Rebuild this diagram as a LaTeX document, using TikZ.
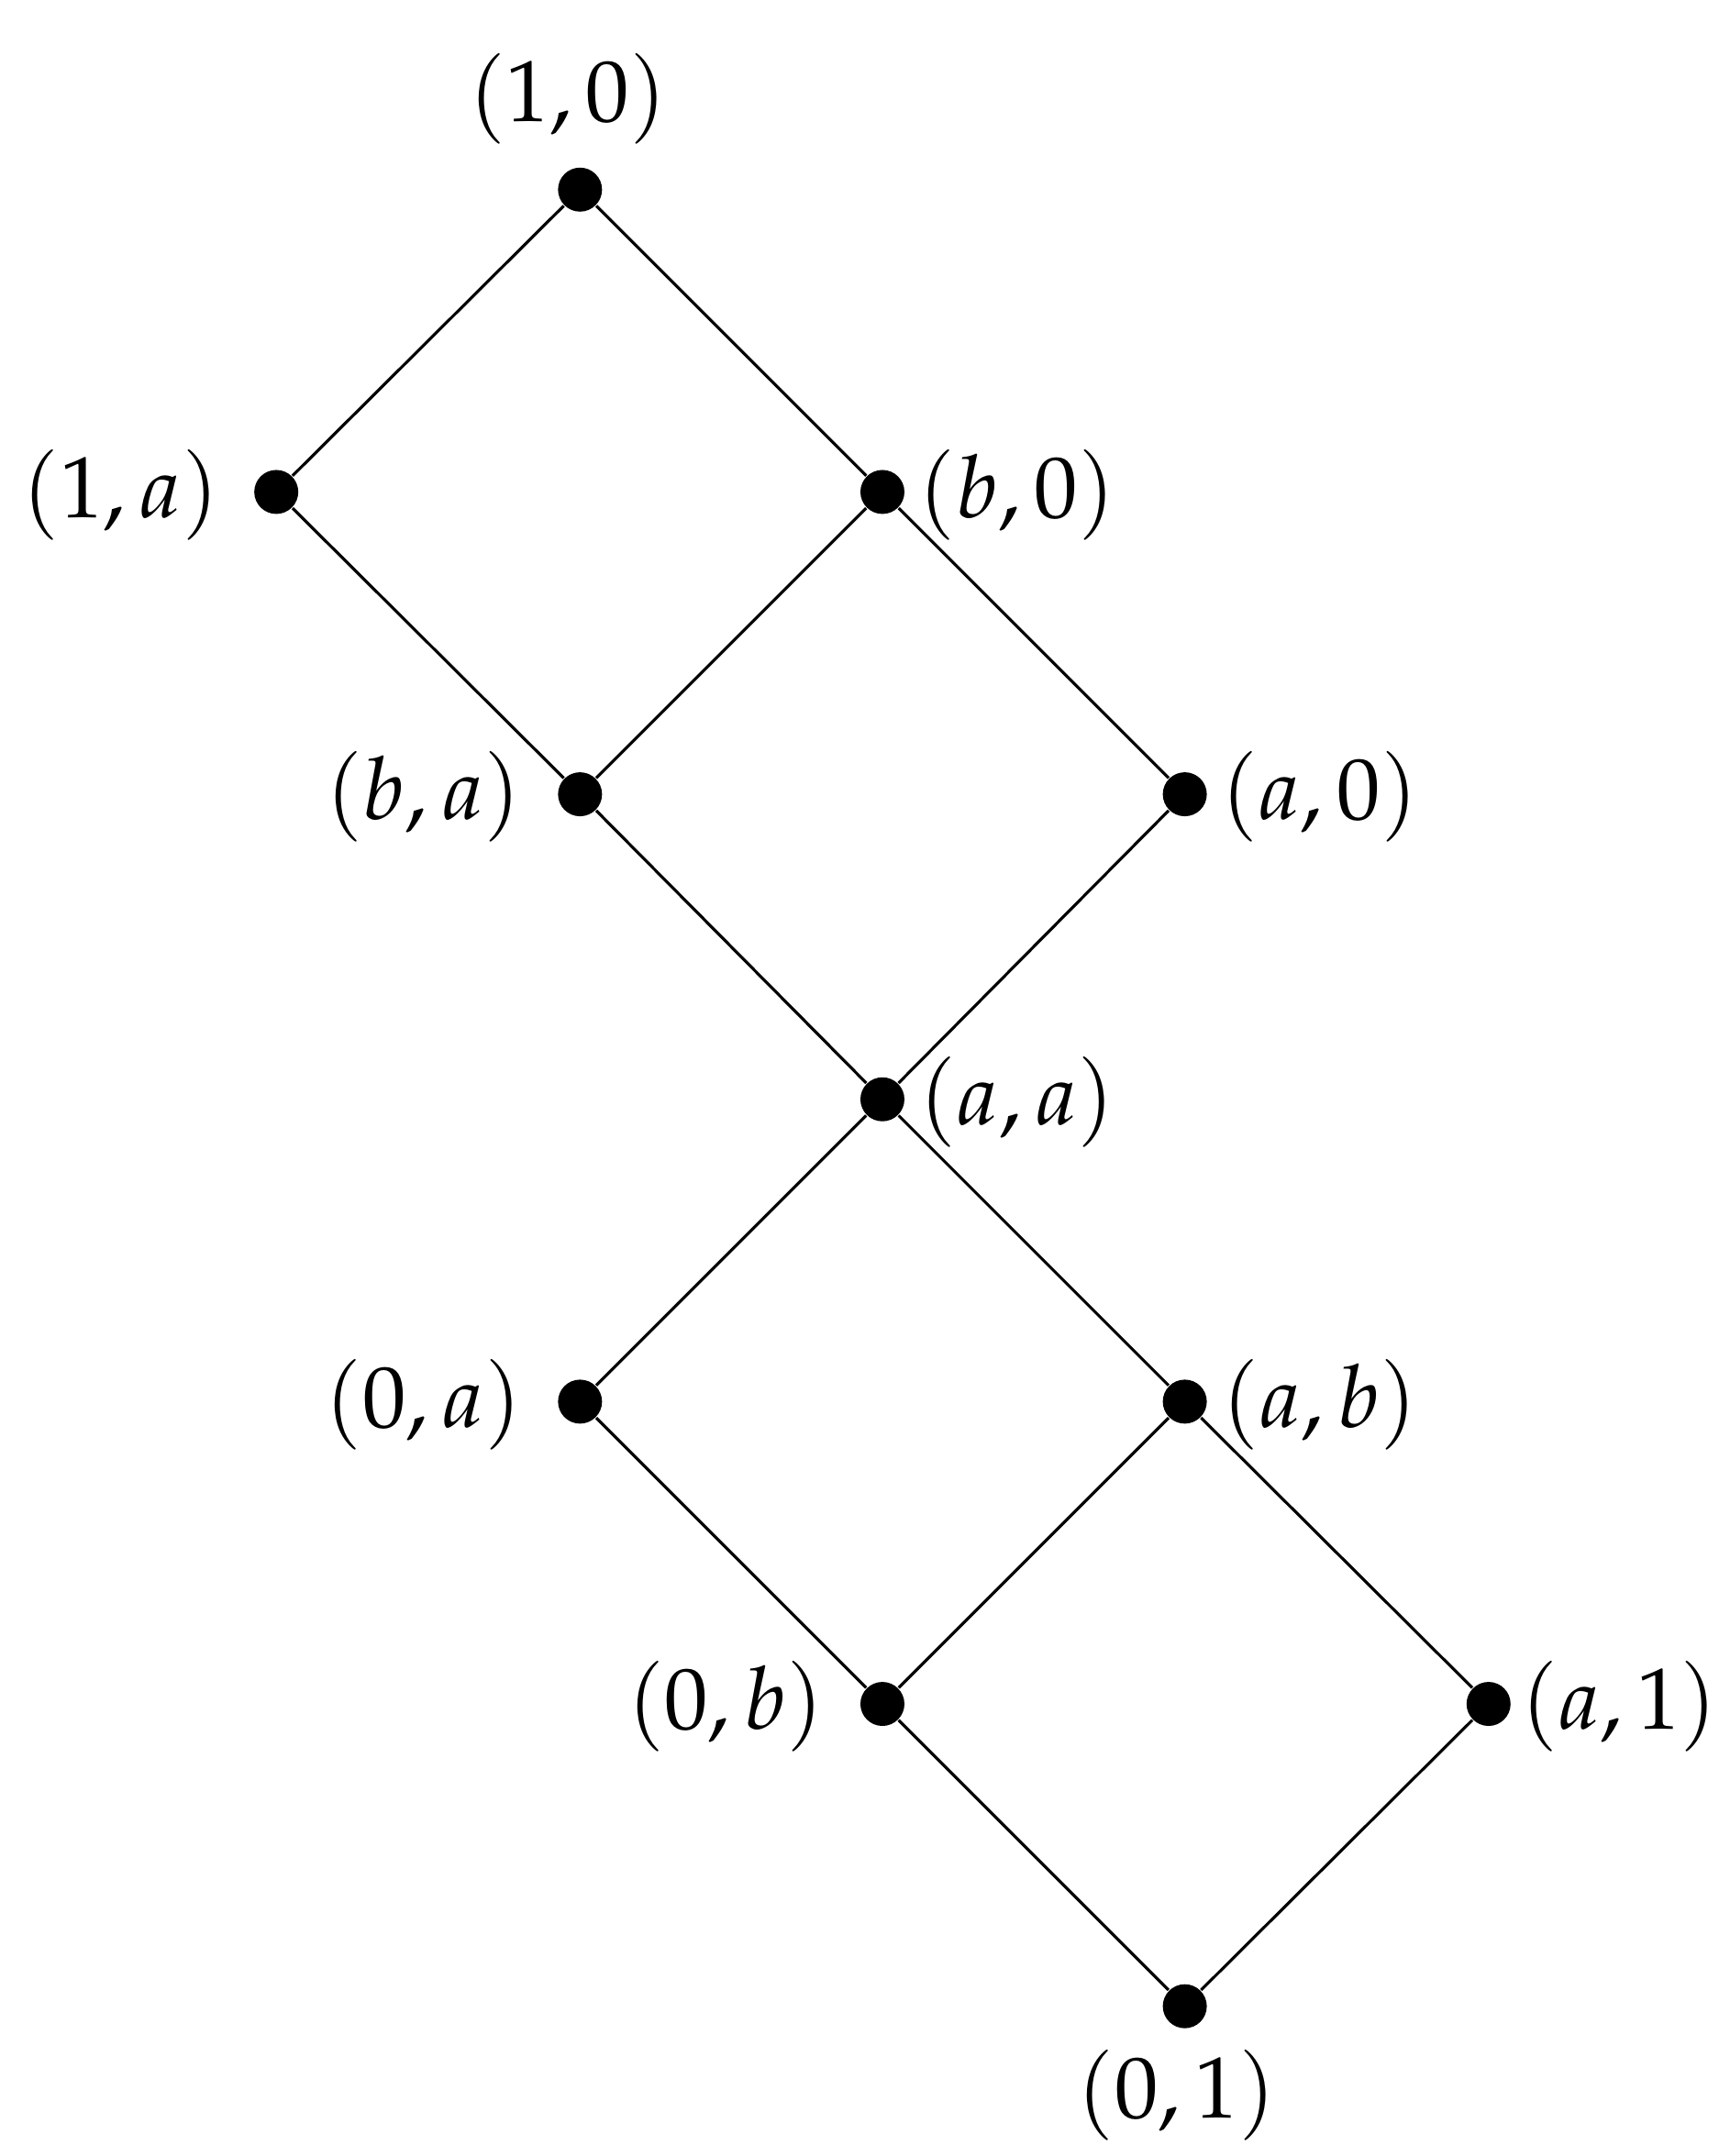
\documentclass[tikz,border=0pt]{standalone}
\usepackage{mathpazo}
\begin{document}
\begin{tikzpicture}[x=0.01cm,y=-0.01cm,
  dot/.style={circle,fill=black,inner sep=0pt,minimum size=0.32cm},
  lab/.style={font=\fontsize{18}{22}\selectfont},
  edge/.style={line width=0.6pt}]
\useasboundingbox (0,0) rectangle (1250,1569);
\node[dot] (n10) at (422,138) {};
\node[dot] (n1a) at (201,358) {};
\node[dot] (nb0) at (642,358) {};
\node[dot] (nba) at (422,578) {};
\node[dot] (na0) at (862,578) {};
\node[dot] (naa) at (642,800) {};
\node[dot] (n0a) at (422,1020) {};
\node[dot] (nab) at (862,1020) {};
\node[dot] (n0b) at (642,1240) {};
\node[dot] (na1) at (1083,1240) {};
\node[dot] (n01) at (862,1460) {};
\draw[edge] (n10)--(n1a) (n10)--(nb0) (n1a)--(nba) (nb0)--(nba) (nb0)--(na0)
 (nba)--(naa) (na0)--(naa) (naa)--(n0a) (naa)--(nab) (n0a)--(n0b) (nab)--(n0b)
 (nab)--(na1) (n0b)--(n01) (na1)--(n01);
\node[lab] (l10) at (413,72) {$(1,0)$};
\node[lab] (l1a) at (88,360) {$(1,a)$};
\node[lab] (lb0) at (740,360) {$(b,0)$};
\node[lab] (lba) at (308,580) {$(b,a)$};
\node[lab] (la0) at (960,580) {$(a,0)$};
\node[lab] (laa) at (740,802) {$(a,a)$};
\node[lab] (l0a) at (308,1022) {$(0,a)$};
\node[lab] (lab) at (960,1022) {$(a,b)$};
\node[lab] (l0b) at (528,1242) {$(0,b)$};
\node[lab] (la1) at (1178,1242) {$(a,1)$};
\node[lab] (l01) at (856,1525) {$(0,1)$};
\end{tikzpicture}
\end{document}
